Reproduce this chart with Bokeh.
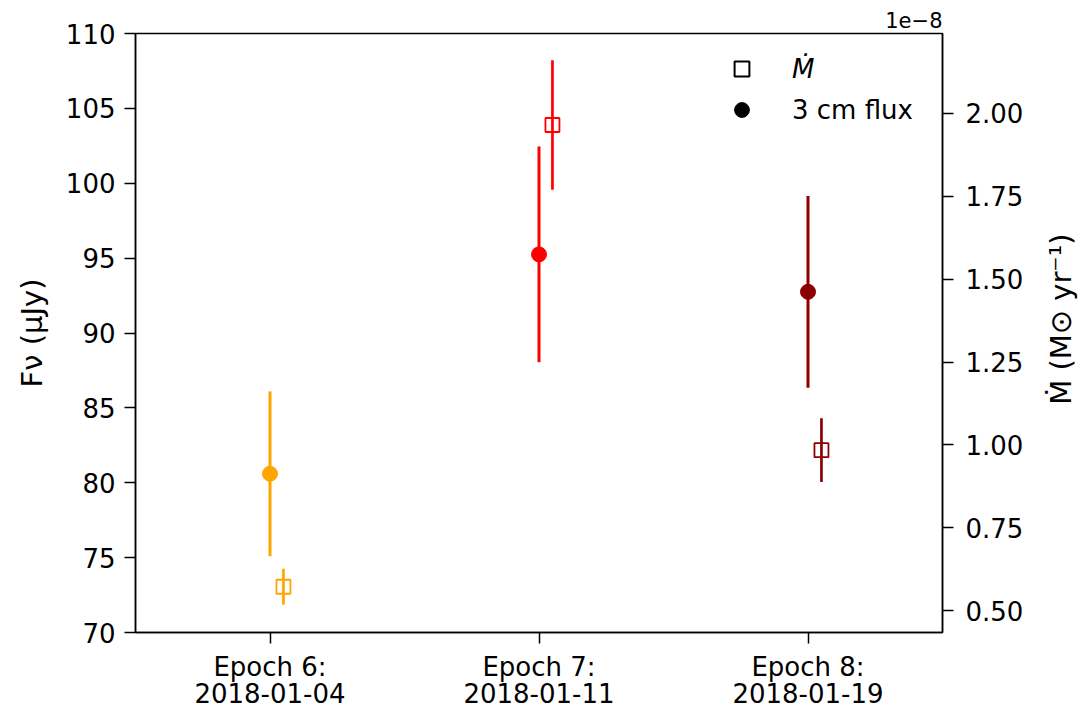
import math
import numpy as np
from bokeh.plotting import figure
from bokeh.layouts import row
from bokeh.models import (Range1d, LinearAxis, FixedTicker, PrintfTickFormatter,
                          Title, Legend, LegendItem, ColumnDataSource, Label)
from bokeh.embed import file_html
from bokeh.resources import INLINE

# ---- data ----
epochs = ["Epoch 6:", "Epoch 7:", "Epoch 8:"]
dates = ["2018-01-04", "2018-01-11", "2018-01-19"]
colors = ["#FFA500", "#FF0000", "#8B0000"]
flux = [80.6, 95.25, 92.75]          # microJy
flux_err = [5.5, 7.2, 6.4]
mdot = [0.572, 1.965, 0.984]         # units of 1e-8 Msun/yr
mdot_err = [0.054, 0.195, 0.096]
mdot_offset = 0.05
flux_ticks = [70, 75, 80, 85, 90, 95, 100, 105, 110]
mdot_ticks = [0.5, 0.75, 1.0, 1.25, 1.5, 1.75, 2.0]

FONT = "DejaVu Sans"
W, H = 1078, 711
SIDE_W = 50          # strip holding the right-hand axis title

x = np.arange(len(epochs))
fx = np.array(flux)
fe = np.array(flux_err)
mx = x + mdot_offset
my = np.array(mdot)
me = np.array(mdot_err)

src_f = ColumnDataSource(dict(x=x, y=fx, lo=fx - fe, hi=fx + fe, c=colors))
src_m = ColumnDataSource(dict(x=mx, y=my, lo=my - me, hi=my + me, c=colors))

p = figure(width=W - SIDE_W, height=H, output_backend="svg", toolbar_location=None,
           x_range=Range1d(-0.5, 2.5), y_range=Range1d(70, 110),
           min_border_left=135, min_border_right=136 - SIDE_W, min_border_top=33,
           min_border_bottom=78)
p.extra_y_ranges = {"mdot": Range1d(0.434, 2.241)}
p.xgrid.visible = False
p.ygrid.visible = False
p.background_fill_color = "white"
p.border_fill_color = "white"
p.outline_line_color = "black"
p.outline_line_width = 1.5
p.outline_line_alpha = 1.0

# offset text shown above the right axis
p.title = Title(text="1e\u22128", align="right", text_font=FONT,
                text_font_size="21px", text_font_style="normal",
                text_color="black", standoff=11, offset=0, text_line_height=1.0)

def style_axis(ax, standoff):
    ax.major_label_text_font = FONT
    ax.major_label_text_font_size = "26px"
    ax.major_label_text_color = "black"
    ax.axis_label_text_font = FONT
    ax.axis_label_text_font_size = "29px"
    ax.axis_label_text_font_style = "normal"
    ax.axis_label_text_color = "black"
    ax.major_tick_out = 11
    ax.major_tick_in = 0
    ax.major_tick_line_width = 1.5
    ax.major_tick_line_color = "black"
    ax.minor_tick_line_color = None
    ax.axis_line_width = 1.5
    ax.axis_line_color = "black"
    ax.major_label_standoff = standoff

# bottom axis
xa = p.xaxis[0]
xa.ticker = FixedTicker(ticks=list(x))
xa.major_label_overrides = {int(i): f"{e}\n{d}" for i, e, d in zip(x, epochs, dates)}
style_axis(xa, 8)
xa.major_label_text_line_height = 0.9

# left axis
ya = p.yaxis[0]
ya.ticker = FixedTicker(ticks=flux_ticks)
ya.axis_label = "F\u03bd (\u03bcJy)"
style_axis(ya, 9)
ya.axis_label_standoff = 14

# right axis (ticks only; its title is drawn in the side strip)
ra = LinearAxis(y_range_name="mdot", ticker=FixedTicker(ticks=mdot_ticks),
                formatter=PrintfTickFormatter(format="%.2f"))
style_axis(ra, 12)
p.add_layout(ra, "right")

# flux points
p.segment(x0="x", y0="lo", x1="x", y1="hi", line_color="c", line_width=3, source=src_f)
p.scatter("x", "y", size=15, fill_color="c", line_color="c", marker="circle", source=src_f)

# mdot points
p.segment(x0="x", y0="lo", x1="x", y1="hi", line_color="c", line_width=2.7,
          source=src_m, y_range_name="mdot")
p.scatter("x", "y", size=14, marker="square", fill_color=None, line_color="c",
          line_width=1.8, source=src_m, y_range_name="mdot")

# legend proxies (invisible NaN points)
r_sq = p.scatter(x=[np.nan], y=[np.nan], marker="square", fill_color=None,
                 line_color="black", line_width=2)
r_ci = p.scatter(x=[np.nan], y=[np.nan], marker="circle", fill_color="black",
                 line_color="black")

def make_legend(label, rend, loc, style):
    return Legend(items=[LegendItem(label=label, renderers=[rend])], location=loc,
                  glyph_width=37, glyph_height=37, padding=0, margin=0,
                  border_line_color=None, background_fill_alpha=0,
                  label_text_font=FONT, label_text_font_size="26px",
                  label_text_color="black",
                  label_text_font_style=style, label_standoff=32, spacing=0)

p.add_layout(make_legend("\u1e40", r_sq, (588, 545), "italic"))
p.add_layout(make_legend("3 cm flux", r_ci, (588, 504), "normal"))

# side strip with the right-hand axis title (pixel coordinates)
s = figure(width=SIDE_W, height=H, output_backend="svg", toolbar_location=None,
           x_range=Range1d(0, SIDE_W), y_range=Range1d(0, H), min_border=0)
s.axis.visible = False
s.grid.visible = False
s.outline_line_color = None
s.background_fill_color = "white"
s.border_fill_color = "white"
s.add_layout(Label(x=32, y=H - 339, text="\u1e40 (M\u2299 yr\u207b\u00b9)",
                   angle=math.pi / 2, text_align="center", text_baseline="middle",
                   text_font=FONT, text_font_size="29px", text_color="black"))

open("out.html", "w").write(file_html(row(p, s, spacing=0), INLINE))
